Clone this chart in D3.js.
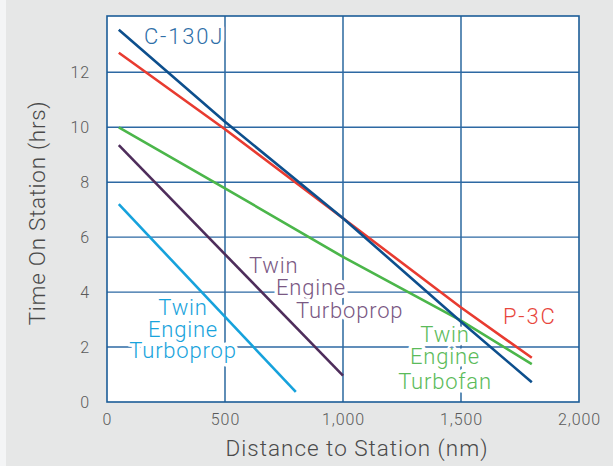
<!DOCTYPE html>
<html>
<head>
<meta charset="utf-8">
<script src="https://cdn.jsdelivr.net/npm/d3@7"></script>
<style>
  body { margin:0; background:#f4f5f6; }
  svg { display:block; font-family: Roboto, "Open Sans", sans-serif; }
</style>
</head>
<body>
<svg id="chart" width="613" height="466"></svg>
<script>
// distance (nm) / time on station (hrs)
var distC130 = [50, 500, 1000, 1500, 1800]
var timeC130 = [13.55, 10.2, 6.69, 2.92, 0.72]
var distP3 = [50, 500, 1000, 1500, 1800]
var timeP3 = [12.71, 9.93, 6.69, 3.44, 1.61]
var distFan = [50, 500, 1000, 1500, 1800]
var timeFan = [10.0, 7.78, 5.28, 2.96, 1.38]
var distProp = [50, 1000]
var timeProp = [9.35, 0.96]
var distSmall = [50, 800]
var timeSmall = [7.2, 0.37]

var xTicks = [0, 500, 1000, 1500, 2000]
var yTicks = [0, 2, 4, 6, 8, 10, 12]

var width = 613, height = 466
var margin = {top:16, left:107, bottom:64, right:34}
var svg = d3.select("#chart")

svg.append("rect").attr("x", 6).attr("y", 0).attr("width", width-6).attr("height", height).attr("fill", "#e6e7e7")

var g = svg.append("g").attr("transform", "translate(" + margin.left + "," + margin.top + ")")
var w = width - margin.left - margin.right, h = height - margin.top - margin.bottom

var xScale = d3.scaleLinear().domain([0, 2000]).range([0, w])
var yScale = d3.scaleLinear().domain([0, 14.05]).range([h, 0])

g.append("rect").attr("width", w).attr("height", h).attr("fill", "#fff")

// grid
g.selectAll(".vgrid").data(xTicks.slice(1, -1)).enter().append("line")
  .attr("x1", d => xScale(d)).attr("x2", d => xScale(d))
  .attr("y1", 0).attr("y2", h)
  .attr("stroke", "#1c5d98").attr("stroke-width", 1.4)
g.selectAll(".hgrid").data(yTicks.slice(1)).enter().append("line")
  .attr("x1", 0).attr("x2", w)
  .attr("y1", d => yScale(d)).attr("y2", d => yScale(d))
  .attr("stroke", "#2d69a3").attr("stroke-width", 1.4)

// axes (labels only)
var xAxis = g.append("g").attr("transform", "translate(0," + h + ")")
  .call(d3.axisBottom(xScale).tickValues(xTicks).tickSize(0).tickPadding(12).tickFormat(d3.format(",")))
var yAxis = g.append("g")
  .call(d3.axisLeft(yScale).tickValues(yTicks).tickSize(0).tickPadding(17))
xAxis.select(".domain").remove()
yAxis.select(".domain").remove()
svg.selectAll(".tick text").attr("font-size", 16).attr("fill", "#5a5a5a")
  .attr("font-family", "Roboto").attr("font-weight", 300).attr("letter-spacing", 0.9)

g.append("rect").attr("width", w).attr("height", h).attr("fill", "none")
  .attr("stroke", "#1c5d98").attr("stroke-width", 1.6)

var line = d3.line()
  .x(function(d) { return xScale(d[0]) })
  .y(function(d) { return yScale(d[1]) })

var series = [
  {x: distSmall, y: timeSmall, color: "#16a2dc"},
  {x: distProp, y: timeProp, color: "#4e2d5b"},
  {x: distFan, y: timeFan, color: "#4bb64a"},
  {x: distP3, y: timeP3, color: "#e83b30"},
  {x: distC130, y: timeC130, color: "#0d4f8d"}
]

// labels with white knockout
function label(lines, color, anchor) {
  lines.forEach(function(l) {
    g.append("text")
      .attr("x", l[0] - margin.left).attr("y", l[1] - margin.top)
      .attr("text-anchor", anchor)
      .attr("font-size", 22).attr("font-weight", 300)
      .attr("letter-spacing", 0.8)
      .attr("fill", color)
      .attr("stroke", "#fff").attr("stroke-width", 7).attr("paint-order", "stroke")
      .attr("stroke-linejoin", "round")
      .text(l[2])
  })
}
label([[183, 315, "Twin"], [183, 337, "Engine"], [183, 358, "Turboprop"]], "#18a3dc", "middle")
label([[249, 273, "Twin"], [276, 295, "Engine"], [296, 318, "Turboprop"]], "#7a5883", "start")
label([[445, 342, "Twin"], [445, 364, "Engine"], [445, 389, "Turbofan"]], "#5bbb5a", "middle")

series.forEach(function(s) {
  g.append("path")
    .datum(d3.zip(s.x, s.y))
    .attr("fill", "none")
    .attr("stroke", s.color)
    .attr("stroke-width", 2.6)
    .attr("stroke-linecap", "butt")
    .attr("d", line)
})

label([[503, 324, "P-3C"]], "#e8463c", "start")
label([[144, 44, "C-130J"]], "#2f6fa8", "start")
g.selectAll("text").filter(function() { return /P-3C|C-130J/.test(this.textContent) })
  .attr("letter-spacing", 1.8)

// axis titles
svg.append("text")
  .attr("x", 357).attr("y", 456)
  .attr("text-anchor", "middle")
  .attr("font-size", 22.5).attr("font-weight", 300).attr("fill", "#4a4a4a")
  .attr("letter-spacing", 1)
  .text("Distance to Station (nm)")
svg.append("text")
  .attr("transform", "translate(" + [45, 213] + ")rotate(-90)")
  .attr("text-anchor", "middle")
  .attr("font-size", 22.5).attr("font-weight", 300).attr("fill", "#4a4a4a")
  .attr("letter-spacing", 0.7)
  .text("Time On Station (hrs)")
</script>
</body>
</html>
